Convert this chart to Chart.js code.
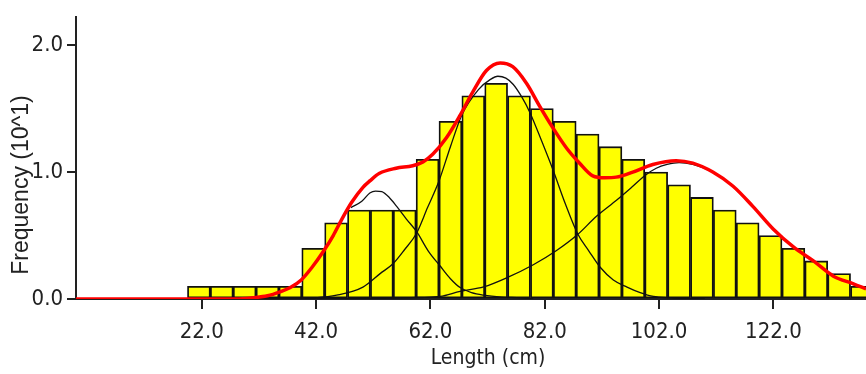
<!DOCTYPE html>
<html>
<head>
<meta charset="utf-8">
<script src="https://cdn.jsdelivr.net/npm/chart.js@4.4.1/dist/chart.umd.min.js"></script>
<style>
  html, body { margin: 0; padding: 0; background: #fff; }
  #wrap { width: 866px; height: 374px; }
</style>
</head>
<body>
<div id="wrap"><canvas id="grafico" width="866" height="374"></canvas></div>
<script>
// histogram bins (cm) and frequencies (x10)
const binCenters = [21.5, 25.5, 29.5, 33.5, 37.5, 41.5, 45.5, 49.5, 53.5, 57.5,
                    61.5, 65.5, 69.5, 73.5, 77.5, 81.5, 85.5, 89.5, 93.5, 97.5,
                    101.5, 105.5, 109.5, 113.5, 117.5, 121.5, 125.5, 129.5, 133.5, 137.5];
const freq = [0.1, 0.1, 0.1, 0.1, 0.1, 0.4, 0.6, 0.7, 0.7, 0.7,
              1.1, 1.4, 1.6, 1.7, 1.6, 1.5, 1.4, 1.3, 1.2, 1.1,
              1.0, 0.9, 0.8, 0.7, 0.6, 0.5, 0.4, 0.3, 0.2, 0.1];

// total fitted curve (red)
const fitX = [0, 28, 31, 33.5, 35.7, 37.5, 39.4, 41.3, 43.2, 45, 46.4, 48.2, 50.2, 51.4, 53.1, 56, 58.9,
              60.7, 62.4, 64.8, 67.1, 69.4, 71.8, 74.2, 76.4, 78.8, 81.1, 83.4, 85.8, 88.1, 90.4,
              92.5, 94.5, 97.4, 100.9, 105, 107.9, 111.4, 114.9, 118.4, 122, 125.5, 129, 132.5, 136, 138.2];
const fitY = [0, 0, 0.01, 0.025, 0.056, 0.09, 0.15, 0.25, 0.37, 0.5, 0.62, 0.76, 0.88, 0.93, 0.99, 1.03, 1.05,
              1.08, 1.14, 1.27, 1.44, 1.63, 1.80, 1.86, 1.83, 1.70, 1.52, 1.35, 1.19, 1.07, 0.97,
              0.955, 0.96, 1.0, 1.06, 1.09, 1.07, 1.00, 0.89, 0.73, 0.55, 0.41, 0.30, 0.18, 0.12, 0.08];

// normal components (black)
const comp1X = [48.1, 50, 51.4, 52.4, 53.5, 54.8, 56.1, 57.8, 59.6, 61.6, 63.7, 65.5, 67.2, 69.2, 71.3, 74.5, 77.7, 80];
const comp1Y = [0.72, 0.77, 0.835, 0.85, 0.845, 0.80, 0.73, 0.63, 0.53, 0.38, 0.26, 0.16, 0.09, 0.05, 0.03, 0.015, 0.01, 0];

const comp2X = [40, 45.6, 50.2, 53.2, 55.5, 57.5, 59.6, 61.5, 63.5, 65.5, 67.5, 70.4, 72.5, 73.8, 75.2,
                76.5, 78, 79.4, 81.5, 83.5, 85.6, 87.8, 89.7, 91.7, 94, 96.4, 98.7, 101, 104, 110];
const comp2Y = [0, 0.03, 0.094, 0.2, 0.28, 0.39, 0.52, 0.72, 0.93, 1.2, 1.45, 1.65, 1.73, 1.755, 1.74,
                1.69, 1.59, 1.47, 1.24, 1.01, 0.75, 0.51, 0.38, 0.25, 0.15, 0.094, 0.05, 0.02, 0.01, 0];

const comp3X = [28, 40, 50, 56, 60, 63.7, 67.2, 71.3, 75.5, 80, 84, 87.8, 91, 94.6, 97.2, 99.6, 101.5,
                103.4, 105.5, 107.9, 111.4, 114.9, 118.4, 122, 125.5, 129, 132.5, 136, 138.2];
const comp3Y = [0, 0, 0.003, 0.007, 0.012, 0.02, 0.06, 0.095, 0.17, 0.27, 0.38, 0.51, 0.65, 0.78, 0.88, 0.975, 1.03,
                1.06, 1.075, 1.06, 1.0, 0.89, 0.73, 0.55, 0.41, 0.30, 0.18, 0.12, 0.08];

const xTicks = [22, 42, 62, 82, 102, 122];
const yTicks = [0, 1, 2];

const pts = (xs, ys) => xs.map((x, i) => ({ x: x, y: ys[i] }));

const narrow = '"Liberation Sans Narrow", "DejaVu Sans Condensed", "Liberation Sans", sans-serif';
const inkColor = '#222';

const axisTitles = {
    id: 'axisTitles',
    afterDraw(chart) {
        const ctx = chart.ctx;
        ctx.save();
        ctx.fillStyle = inkColor;
        ctx.textAlign = 'center';
        ctx.textBaseline = 'middle';
        ctx.font = '21px ' + narrow;
        ctx.fillText('Length (cm)', 488, 359);
        ctx.translate(22, 185);
        ctx.rotate(-Math.PI / 2);
        ctx.font = '23px "Liberation Sans", Arial, sans-serif';
        ctx.fillText('Frequency (10^1)', 0, 0);
        ctx.restore();
    }
};

const compStyle = {
    type: 'line',
    borderColor: '#111',
    borderWidth: 1.3,
    pointRadius: 0,
    tension: 0.4,
    cubicInterpolationMode: 'monotone',
    fill: false,
    order: 2
};

new Chart(document.getElementById('grafico').getContext('2d'), {
    type: 'bar',
    data: {
        datasets: [
            {
                type: 'line',
                data: pts(fitX, fitY),
                borderColor: '#ff0000',
                borderWidth: 3.5,
                pointRadius: 0,
                cubicInterpolationMode: 'monotone',
                fill: false,
                order: 1
            },
            Object.assign({ data: pts(comp1X, comp1Y) }, compStyle),
            Object.assign({ data: pts(comp2X, comp2Y) }, compStyle),
            Object.assign({ data: pts(comp3X, comp3Y) }, compStyle),
            {
                type: 'bar',
                data: pts(binCenters, freq),
                backgroundColor: '#ffff00',
                borderColor: '#111',
                borderWidth: 1.8,
                borderSkipped: false,
                barPercentage: 1.0,
                categoryPercentage: 1.0,
                order: 3
            }
        ]
    },
    options: {
        responsive: false,
        animation: false,
        devicePixelRatio: 1,
        layout: { padding: { top: 9, right: 0, bottom: 0, left: 0 } },
        plugins: {
            legend: { display: false },
            tooltip: { enabled: false }
        },
        scales: {
            x: {
                type: 'linear',
                min: 0,
                max: 138.2,
                offset: false,
                afterFit: s => { s.height = 75; },
                afterBuildTicks: s => { s.ticks = xTicks.map(v => ({ value: v })); },
                grid: { offset: false, drawOnChartArea: false, drawTicks: true, tickLength: 10, color: inkColor, lineWidth: 2 },
                border: { display: true, color: inkColor, width: 2 },
                ticks: {
                    autoSkip: false,
                    maxRotation: 0,
                    padding: 10,
                    color: inkColor,
                    font: { family: narrow, size: 22 },
                    callback: v => v.toFixed(1)
                }
            },
            y: {
                type: 'linear',
                min: 0,
                max: 2.22,
                afterFit: s => { s.width = 76; },
                afterBuildTicks: s => { s.ticks = yTicks.map(v => ({ value: v })); },
                grid: { drawOnChartArea: false, drawTicks: true, tickLength: 9, color: inkColor, lineWidth: 2 },
                border: { display: true, color: inkColor, width: 2 },
                ticks: {
                    padding: 4,
                    color: inkColor,
                    font: { family: narrow, size: 22 },
                    callback: v => v.toFixed(1)
                }
            }
        }
    },
    plugins: [axisTitles]
});
</script>
</body>
</html>
